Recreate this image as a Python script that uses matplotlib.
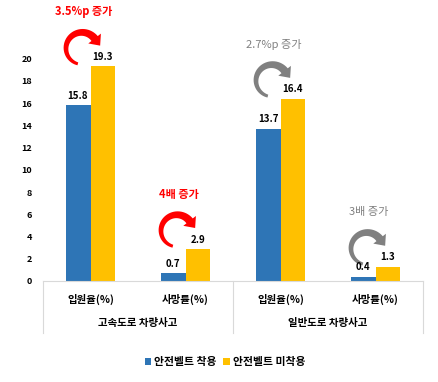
import numpy as np
import matplotlib
matplotlib.use("Agg")
import matplotlib.pyplot as plt
from matplotlib.patches import Polygon
from matplotlib.lines import Line2D
import matplotlib.transforms as mtransforms

plt.rcParams["font.family"] = ["Noto Sans CJK KR", "DejaVu Sans"]
plt.rcParams["font.weight"] = "bold"

categories = ["입원율(%)", "사망률(%)", "입원율(%)", "사망률(%)"]
groups = ["고속도로 차량사고", "일반도로 차량사고"]
belt_on = [15.8, 0.7, 13.7, 0.4]
belt_off = [19.3, 2.9, 16.4, 1.3]
series_names = ["안전벨트 착용", "안전벨트 미착용"]
notes = ["3.5%p 증가", "4배 증가", "2.7%p 증가", "3배 증가"]
note_colors = ["#FF0000", "#FF0000", "#808080", "#808080"]

BLUE = "#2E75B6"
YELLOW = "#FFC000"
GRID = "#D9D9D9"

fig = plt.figure(figsize=(4.38, 3.82), dpi=100)
ax = fig.add_axes([43 / 438, 1 - 281 / 382, 380 / 438, 281 / 382])

x = np.arange(len(categories))
w = 0.263
ax.bar(x - w / 2, belt_on, w, color=BLUE, label=series_names[0])
ax.bar(x + w / 2, belt_off, w, color=YELLOW, label=series_names[1])

for xi, v in zip(x - w / 2, belt_on):
    ax.annotate(f"{v}", (xi, v), xytext=(0, 3), textcoords="offset points",
                ha="center", va="bottom", fontsize=7, fontweight="bold")
for xi, v in zip(x + w / 2, belt_off):
    ax.annotate(f"{v}", (xi, v), xytext=(0, 3), textcoords="offset points",
                ha="center", va="bottom", fontsize=7, fontweight="bold")


def curved_arrow(cx, cy, r=16, a0=255, a1=38, w0=3, w1=8, head_w=16, head_l=9):
    # thick clockwise arc with a triangular head, in pixel units
    th = np.radians(np.linspace(a0, a1, 40))
    wd = np.linspace(w0, w1, 40)
    outer = np.column_stack([cx + (r + wd / 2) * np.cos(th), cy + (r + wd / 2) * np.sin(th)])
    inner = np.column_stack([cx + (r - wd / 2) * np.cos(th), cy + (r - wd / 2) * np.sin(th)])
    tb = th[-1]
    base = np.array([cx + r * np.cos(tb), cy + r * np.sin(tb)])
    nrm = np.array([np.cos(tb), np.sin(tb)])
    tan = np.array([np.sin(tb), -np.cos(tb)])
    head = np.array([base + nrm * head_w / 2, base + tan * head_l, base - nrm * head_w / 2])
    return np.vstack([outer, head, inner[::-1]])


arrow_xy = curved_arrow(-21, 18)
for i in range(len(categories)):
    col = note_colors[i]
    tr = mtransforms.Affine2D() + mtransforms.ScaledTranslation(
        x[i] + w / 2, belt_off[i], ax.transData)
    ax.add_patch(Polygon(arrow_xy, closed=True, transform=tr, facecolor=col,
                         edgecolor="none", clip_on=False))
    ax.text(x[i] - 0.07, belt_off[i] + 4.9, notes[i], color=col, ha="center",
            va="center", fontsize=8, fontweight="bold" if col == "#FF0000" else "normal")

ax.set_xlim(-0.5, 3.5)
ax.set_ylim(0, 25.27)
ax.set_yticks(np.arange(0, 21, 2))
ax.set_xticks(x)
ax.set_xticklabels(categories, fontsize=7.5, fontweight="bold")
ax.tick_params(axis="x", length=0, pad=9)
ax.tick_params(axis="y", length=0, pad=8, labelsize=6.5)
for s in ["top", "right", "left"]:
    ax.spines[s].set_visible(False)
ax.spines["bottom"].set_color(GRID)

trans = mtransforms.blended_transform_factory(ax.transData, ax.transAxes)
for xv in [-0.5, 1.5, 3.5]:
    ax.add_line(Line2D([xv, xv], [0, -52 / 281], transform=trans, color=GRID,
                       lw=0.8, clip_on=False))
for gi, g in enumerate(groups):
    ax.text(2 * gi + 0.5, -42 / 281, g, transform=trans, ha="center", va="center",
            fontsize=7.5, fontweight="bold")

ax.legend(loc="center", bbox_to_anchor=(225 / 438, 1 - 362 / 382),
          bbox_transform=fig.transFigure, ncol=2, frameon=False, fontsize=7.8,
          handlelength=0.6, handleheight=0.6, handletextpad=0.3, columnspacing=0.6)

fig.savefig("out.png", dpi=100)
